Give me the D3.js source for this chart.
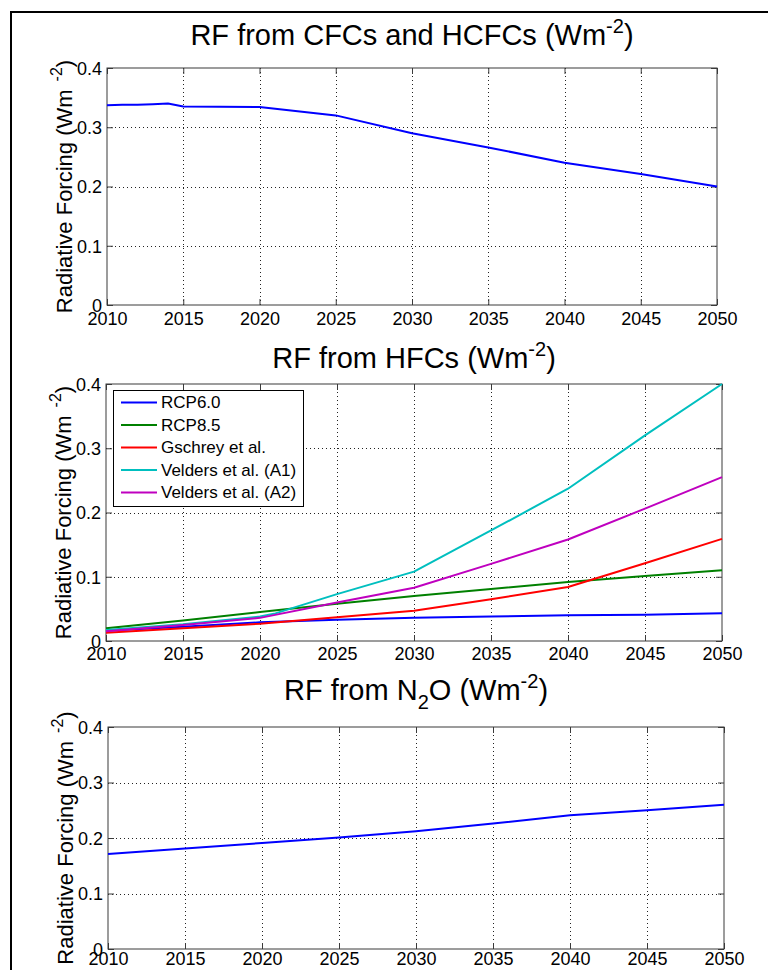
<!DOCTYPE html>
<html>
<head>
<meta charset="utf-8">
<script src="https://cdn.jsdelivr.net/npm/d3@7"></script>
<style>
  html, body { margin: 0; padding: 0; background: #fff; }
  svg { display: block; }
  text { font-family: "Liberation Sans", Arial, sans-serif; fill: #000; }
</style>
</head>
<body>
<svg id="chart" width="768" height="970"></svg>
<script>
// ---------------- DATA ----------------
const xTicks = [2010, 2015, 2020, 2025, 2030, 2035, 2040, 2045, 2050];
const yTicks = [0, 0.1, 0.2, 0.3, 0.4];
const yTickLabels = ["0", "0.1", "0.2", "0.3", "0.4"];

// Panel 1: CFCs and HCFCs
const cfcYears  = [2010, 2011, 2012, 2013, 2014, 2015, 2020, 2025, 2030, 2035, 2040, 2045, 2050];
const cfcValues = [0.337, 0.338, 0.338, 0.339, 0.340, 0.335, 0.334, 0.320, 0.290, 0.266, 0.240, 0.221, 0.200];

// Panel 2: HFCs
const hfcYears   = [2010, 2015, 2020, 2025, 2030, 2035, 2040, 2045, 2050];
const rcp60      = [0.016, 0.022, 0.029, 0.033, 0.036, 0.038, 0.040, 0.041, 0.043];
const rcp85      = [0.020, 0.032, 0.045, 0.058, 0.070, 0.081, 0.092, 0.101, 0.110];
const gschrey    = [0.013, 0.020, 0.027, 0.037, 0.047, 0.065, 0.084, 0.121, 0.159];
const veldersA1Years = [2010, 2015, 2020, 2021, 2025, 2030, 2035, 2040, 2045, 2050];
const veldersA1  = [0.017, 0.026, 0.038, 0.043, 0.073, 0.108, 0.172, 0.237, 0.320, 0.400];
const veldersA2  = [0.015, 0.025, 0.036, 0.060, 0.083, 0.120, 0.158, 0.206, 0.255];
const hfcSeriesNames = ["RCP6.0", "RCP8.5", "Gschrey et al.", "Velders et al. (A1)", "Velders et al. (A2)"];

// Panel 3: N2O
const n2oYears  = [2010, 2015, 2020, 2025, 2030, 2035, 2040, 2045, 2050];
const n2oValues = [0.171, 0.181, 0.191, 0.201, 0.212, 0.226, 0.241, 0.250, 0.260];

// ---------------- DRAWING ----------------
const svg = d3.select("#chart");
const colors = {
  blue: "#0000ff", green: "#008000", red: "#ff0000", cyan: "#00bfbf", magenta: "#bf00bf"
};
const axisColor = "#3a3a3a";

// Outer frame
svg.append("rect")
  .attr("x", 11).attr("y", 12).attr("width", 900).attr("height", 1100)
  .attr("fill", "none").attr("stroke", "#000").attr("stroke-width", 2);

function panel(cfg) {
  const x = d3.scaleLinear().domain([2010, 2050]).range([cfg.left, cfg.right]);
  const y = d3.scaleLinear().domain([0, 0.4]).range([cfg.bottom, cfg.top]);
  const g = svg.append("g");
  const w = cfg.right - cfg.left, h = cfg.bottom - cfg.top;

  // grid
  const grid = g.append("g").attr("stroke", "#222").attr("stroke-width", 1)
    .attr("stroke-dasharray", "1,3");
  grid.selectAll("line.gx").data(xTicks.slice(1, -1)).join("line")
    .attr("x1", d => Math.round(x(d)) + 0.5).attr("x2", d => Math.round(x(d)) + 0.5)
    .attr("y1", cfg.top).attr("y2", cfg.bottom);
  grid.selectAll("line.gy").data(yTicks.slice(1, -1)).join("line")
    .attr("y1", d => Math.round(y(d)) + 0.5).attr("y2", d => Math.round(y(d)) + 0.5)
    .attr("x1", cfg.left).attr("x2", cfg.right);

  // axes with inward ticks (bottom/top/left/right)
  const tickLen = 6;
  const bottomAxis = g.append("g").attr("transform", `translate(0,${cfg.bottom})`)
    .call(d3.axisBottom(x).tickValues(xTicks).tickSize(-tickLen).tickFormat(d3.format("d")));
  const topAxis = g.append("g").attr("transform", `translate(0,${cfg.top})`)
    .call(d3.axisTop(x).tickValues(xTicks).tickSize(-tickLen).tickFormat(""));
  const leftAxis = g.append("g").attr("transform", `translate(${cfg.left},0)`)
    .call(d3.axisLeft(y).tickValues(yTicks).tickSize(-tickLen)
      .tickFormat((d, i) => yTickLabels[i]).tickPadding(5));
  const rightAxis = g.append("g").attr("transform", `translate(${cfg.right},0)`)
    .call(d3.axisRight(y).tickValues(yTicks).tickSize(-tickLen).tickFormat(""));
  [bottomAxis, topAxis, leftAxis, rightAxis].forEach(a => {
    a.select(".domain").remove();
    a.selectAll(".tick line").attr("stroke", axisColor);
    a.selectAll("text").attr("font-size", 18).attr("fill", "#000")
      .attr("font-family", '"Liberation Sans", Arial, sans-serif');
  });
  bottomAxis.selectAll("text").attr("y", cfg.xLabelOffset).attr("dy", 0);
  leftAxis.selectAll("text").attr("dy", "0.35em");

  // box
  g.append("rect").attr("x", cfg.left).attr("y", cfg.top).attr("width", w).attr("height", h)
    .attr("fill", "none").attr("stroke", axisColor).attr("stroke-width", 1);

  // lines
  const lineGen = d3.line().x(d => x(d[0])).y(d => y(d[1]));
  const lg = g.append("g");
  cfg.series.forEach(s => {
    lg.append("path")
      .datum(s.years.map((yr, i) => [yr, s.values[i]]))
      .attr("d", lineGen).attr("fill", "none").attr("stroke", s.color)
      .attr("stroke-width", 2).attr("stroke-linejoin", "round");
  });

  // title
  const cx = (cfg.left + cfg.right) / 2;
  const t = g.append("text").attr("x", cx).attr("y", cfg.titleY)
    .attr("text-anchor", "middle").attr("font-size", 29);
  cfg.titleParts(t);

  // y-axis label
  const yl = g.append("text")
    .attr("transform", `translate(${cfg.left - 35},${(cfg.top + cfg.bottom) / 2}) rotate(-90)`)
    .attr("text-anchor", "middle").attr("font-size", 22);
  yl.append("tspan").text("Radiative Forcing (Wm");
  yl.append("tspan").attr("dx", 8).attr("dy", -10).attr("font-size", 16).text("-2");
  yl.append("tspan").attr("dy", 10).text(")");

  return { g, x, y };
}

function supTitle(prefix) {
  return t => {
    prefix(t);
    t.append("tspan").attr("dy", -12).attr("font-size", 20).text("-2");
    t.append("tspan").attr("dy", 12).text(")");
  };
}

panel({
  left: 107, right: 717, top: 68, bottom: 305, titleY: 45, xLabelOffset: 20,
  titleParts: supTitle(t => t.append("tspan").text("RF from CFCs and HCFCs (Wm")),
  series: [{ years: cfcYears, values: cfcValues, color: colors.blue }]
});

const p2 = panel({
  left: 106, right: 722, top: 384, bottom: 641, titleY: 368, xLabelOffset: 19,
  titleParts: supTitle(t => t.append("tspan").text("RF from HFCs (Wm")),
  series: [
    { years: hfcYears, values: rcp60, color: colors.blue },
    { years: hfcYears, values: rcp85, color: colors.green },
    { years: hfcYears, values: gschrey, color: colors.red },
    { years: veldersA1Years, values: veldersA1, color: colors.cyan },
    { years: hfcYears, values: veldersA2, color: colors.magenta }
  ]
});

panel({
  left: 108, right: 724, top: 727, bottom: 949, titleY: 700, xLabelOffset: 16,
  titleParts: supTitle(t => {
    t.append("tspan").text("RF from N");
    t.append("tspan").attr("dy", 9).attr("font-size", 20).text("2");
    t.append("tspan").attr("dy", -9).text("O (Wm");
  }),
  series: [{ years: n2oYears, values: n2oValues, color: colors.blue }]
});

// Legend (panel 2)
const legendColors = [colors.blue, colors.green, colors.red, colors.cyan, colors.magenta];
const leg = p2.g.append("g");
leg.append("rect").attr("x", 113.5).attr("y", 390.5).attr("width", 190).attr("height", 116)
  .attr("fill", "#fff").attr("stroke", "#000").attr("stroke-width", 1);
hfcSeriesNames.forEach((name, i) => {
  const yy = 402.5 + i * 22.5;
  leg.append("line").attr("x1", 121).attr("x2", 157).attr("y1", yy).attr("y2", yy)
    .attr("stroke", legendColors[i]).attr("stroke-width", 1.8);
  leg.append("text").attr("x", 161).attr("y", yy).attr("dy", "0.35em")
    .attr("font-size", 17).text(name);
});
</script>
</body>
</html>
